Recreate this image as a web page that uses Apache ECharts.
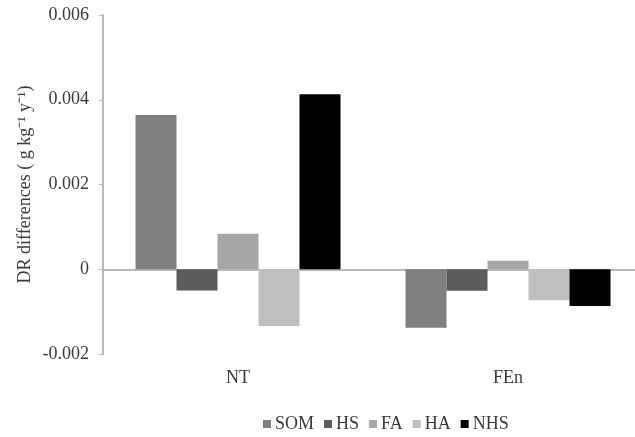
<!DOCTYPE html>
<html><head><meta charset="utf-8">
<script src="https://cdn.jsdelivr.net/npm/echarts@6/dist/echarts.min.js"></script>
<style>html,body{margin:0;padding:0;background:#fff;overflow:hidden}#c{width:643px;height:437px}</style>
</head><body><div id="c"></div>
<script>
var categories = ['NT', 'FEn'];
var seriesNames = ['SOM', 'HS', 'FA', 'HA', 'NHS'];
var SOM = [0.00364, -0.00138];
var HS = [-0.0005, -0.00051];
var FA = [0.00084, 0.0002];
var HA = [-0.00134, -0.00073];
var NHS = [0.00413, -0.00087];
var yTicks = [-0.002, 0, 0.002, 0.004, 0.006];
var colors = ['#808080', '#5b5b5b', '#a6a6a6', '#bfbfbf', '#000000'];
var values = [SOM, HS, FA, HA, NHS];
var font = '"Liberation Serif", "Times New Roman", serif';
var chart = echarts.init(document.getElementById('c'));
chart.setOption({
  animation: false,
  grid: {left: 103, top: 15, right: 0, height: 339},
  legend: {
    data: seriesNames, top: 415, left: 263, itemWidth: 8, itemHeight: 8, itemGap: 10,
    icon: 'rect', padding: 0,
    textStyle: {fontFamily: font, fontSize: 18, color: '#3a3a3a', padding: [0,0,0,-1]}
  },
  xAxis: {
    type: 'category', data: categories,
    axisLine: {onZero: true, lineStyle: {color: '#b8b8b8', width: 2}},
    axisTick: {show: false},
    axisLabel: {fontFamily: font, fontSize: 18, color: '#3a3a3a', margin: 15},
    position: 'bottom'
  },
  yAxis: {
    type: 'value', min: yTicks[0], max: yTicks[yTicks.length - 1], interval: 0.002,
    name: 'DR differences ( g kg\u207B\u00B9 y\u207B\u00B9)', nameLocation: 'middle', nameGap: 69,
    nameMoveOverlap: false,
    nameTextStyle: {fontFamily: font, fontSize: 18, color: '#3a3a3a'},
    axisLine: {show: true, lineStyle: {color: '#b8b8b8', width: 2}},
    axisTick: {show: true, length: 4, lineStyle: {color: '#b8b8b8'}},
    splitLine: {show: false},
    axisLabel: {fontFamily: font, fontSize: 18, color: '#3a3a3a', margin: 14,
      formatter: function(v){ if (Math.abs(v) < 1e-12) return '0'; return v.toFixed(3); }}
  },
  series: seriesNames.map(function(n, i){
    return {name: n, type: 'bar', data: values[i], barWidth: 41, barGap: '0%',
      itemStyle: {color: colors[i]}};
  })
});
</script></body></html>
